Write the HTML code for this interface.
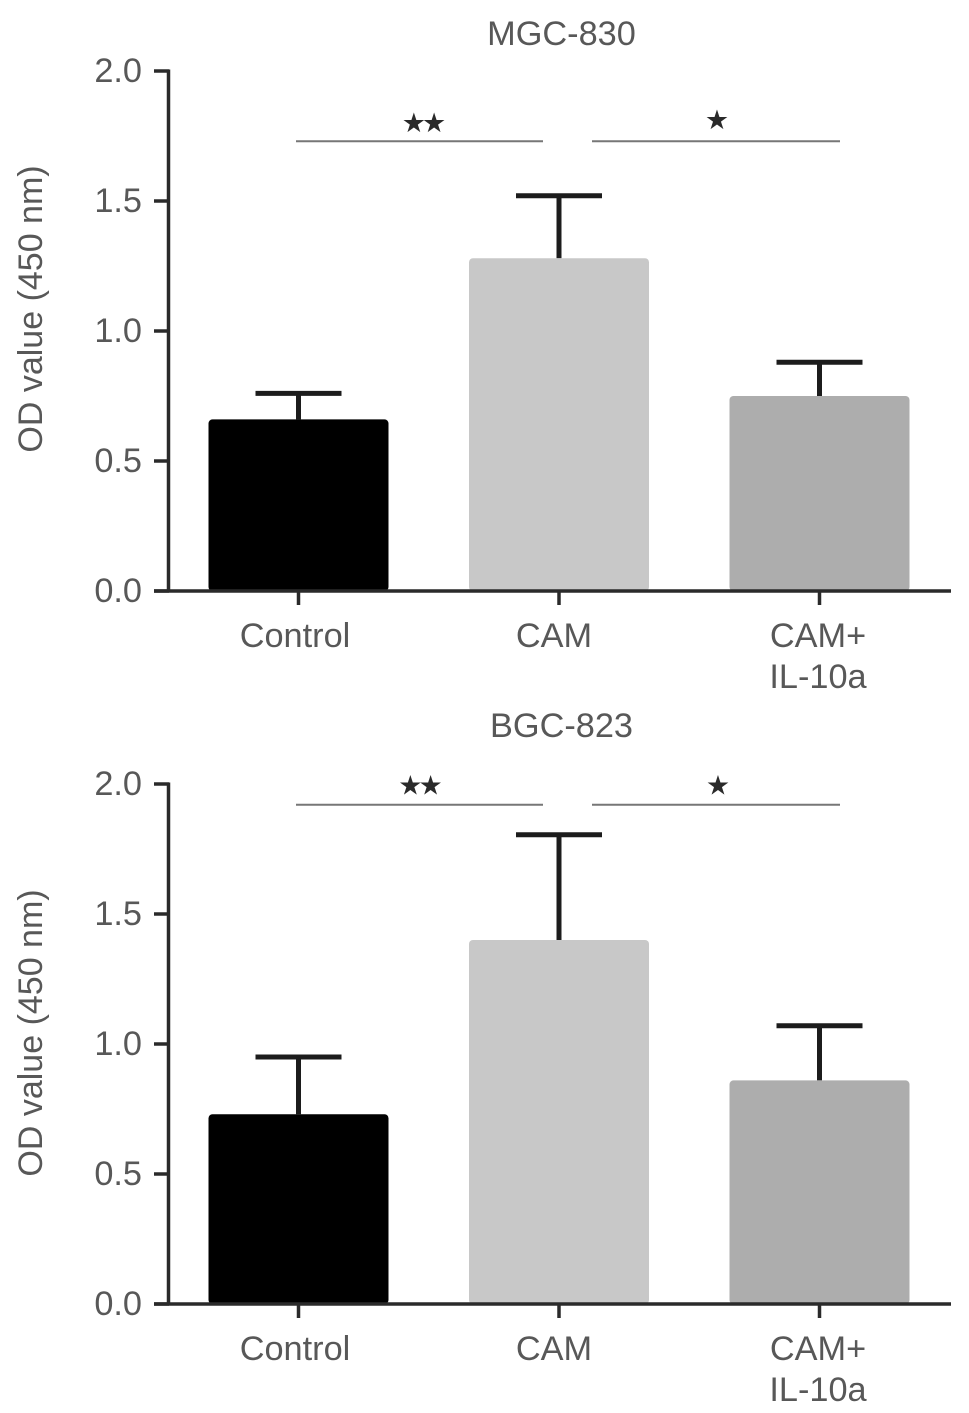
<!DOCTYPE html>
<html>
<head>
<meta charset="utf-8">
<style>
html,body{margin:0;padding:0;background:#fff;}
svg{display:block;}
text{font-family:"Liberation Sans",sans-serif;fill:#585858;}
</style>
</head>
<body>
<svg id="chart" width="969" height="1413" viewBox="0 0 969 1413" xmlns="http://www.w3.org/2000/svg"></svg>
<script>
const categories = [["Control"], ["CAM"], ["CAM+", "IL-10a"]];
const panelTitles = ["MGC-830", "BGC-823"];
const meansTop = [0.66, 1.28, 0.75];
const errorsTop = [0.10, 0.24, 0.13];
const meansBottom = [0.73, 1.40, 0.86];
const errorsBottom = [0.22, 0.405, 0.21];
const yTicks = ["0.0", "0.5", "1.0", "1.5", "2.0"];
const barColors = ["#000000", "#c8c8c8", "#adadad"];
const sigLabels = ["★★", "★"];
const sigLevelsTop = [1.73, 1.73];
const sigLevelsBottom = [1.92, 1.92];

const svg = document.getElementById('chart');
const NS = 'http://www.w3.org/2000/svg';

function add(tag, attrs, parent, text) {
  const el = document.createElementNS(NS, tag);
  for (const k in attrs) el.setAttribute(k, attrs[k]);
  if (text !== undefined) el.textContent = text;
  (parent || svg).appendChild(el);
  return el;
}

function drawPanel(cfg) {
  const g = add('g', {}, svg);
  
  
  const y = v => cfg.y0 - (v / 2) * (cfg.y0 - cfg.y2);
  const xCenter = i => 298.5 + i * 260.5;
  const barW = 180;
  const labelNudge = [-3.5, -5, -1.5];

  const title = add('text', {x: 561.5, y: cfg.titleY, 'text-anchor': 'middle', 'font-size': 34.3}, g, panelTitles[cfg.index]);
  
  

  const yl = add('text', {x: 0, y: 0, 'text-anchor': 'middle', 'font-size': 34,
    transform: `translate(42,${cfg.yTitleCenter}) rotate(-90)`}, g, 'OD value (450 nm)');
  
  

  cfg.means.forEach((m, i) => {
    const cx = xCenter(i);
    const top = y(m + cfg.errs[i]);
    const stem = add('line', {x1: cx, x2: cx, y1: y(m), y2: top, stroke: '#1c1c1c', 'stroke-width': 5}, g);
    
    
    const cap = add('line', {x1: cx - 43, x2: cx + 43, y1: top, y2: top, stroke: '#1c1c1c', 'stroke-width': 5}, g);
    
    
    const bar = add('rect', {x: cx - barW / 2, y: y(m), width: barW, height: y(0) - y(m), rx: 4, fill: barColors[i]}, g);
    
    

    const tick = add('line', {x1: cx, x2: cx, y1: y(0), y2: y(0) + 14, stroke: '#2a2a2a', 'stroke-width': 3.5}, g);
    
    
    categories[i].forEach((line, k) => {
      const t = add('text', {x: cx + labelNudge[i], y: y(0) + 56 + k * 41, 'text-anchor': 'middle', 'font-size': 34.3}, g, line);
      
      
    });
  });

  const xAxis = add('line', {x1: 154, x2: 951, y1: y(0), y2: y(0), stroke: '#2a2a2a', 'stroke-width': 3.5}, g);
  
  
  const yAxis = add('line', {x1: 168.5, x2: 168.5, y1: y(0) + 1, y2: y(2) - 1.5, stroke: '#2a2a2a', 'stroke-width': 3.5}, g);
  
  

  yTicks.forEach(label => {
    const v = parseFloat(label);
    const tk = add('line', {x1: 154, x2: 169, y1: y(v), y2: y(v), stroke: '#2a2a2a', 'stroke-width': 3.5}, g);
    
    
    const t = add('text', {x: 142, y: y(v) + 11, 'text-anchor': 'end', 'font-size': 34.3}, g, label);
    
    
  });

  const spans = [[296, 543], [592, 840]];
  spans.forEach((s, i) => {
    const ly = y(cfg.sig[i]);
    const l = add('line', {x1: s[0], x2: s[1], y1: ly, y2: ly, stroke: '#777', 'stroke-width': 2}, g);
    
    
    const st = add('text', {x: cfg.starX[i], y: cfg.starY[i], 'text-anchor': 'middle',
      'font-size': 27, style: 'letter-spacing:-4px;fill:#2a2a2a;font-family:"DejaVu Sans",sans-serif'}, g, sigLabels[i]);
    
    
  });
}

drawPanel({index: 0, name: 'panel-mgc-830', y0: 591, y2: 71, titleY: 45, yTitleCenter: 309, means: meansTop, errs: errorsTop, sig: sigLevelsTop, starX: [422, 715], starY: [132, 129]});
drawPanel({index: 1, name: 'panel-bgc-823', y0: 1304, y2: 784, titleY: 737, yTitleCenter: 1033, means: meansBottom, errs: errorsBottom, sig: sigLevelsBottom, starX: [418.5, 716], starY: [794.5, 794.5]});
</script>
</body>
</html>
